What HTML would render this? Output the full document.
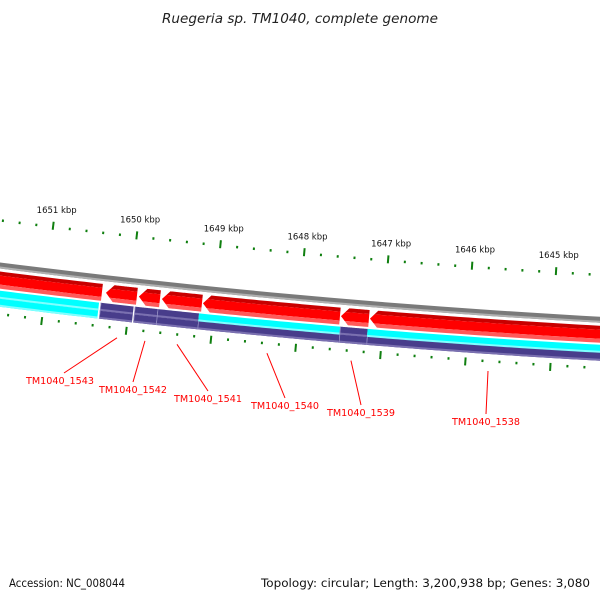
<!DOCTYPE html>
<html><head><meta charset="utf-8"><style>
html,body{margin:0;padding:0;background:#fff;}
svg{display:block;font-family:"DejaVu Sans","Liberation Sans",sans-serif;}
</style></head><body>
<svg id="map" width="600" height="600" viewBox="0 0 600 600" xmlns="http://www.w3.org/2000/svg">
<text x="300" y="23" text-anchor="middle" font-size="13" font-style="italic" fill="#222" textLength="276" lengthAdjust="spacingAndGlyphs">Ruegeria sp. TM1040, complete genome</text>
<text x="9" y="587" font-size="11.5" fill="#111" textLength="116" lengthAdjust="spacingAndGlyphs">Accession: NC_008044</text>
<text x="590" y="587" text-anchor="end" font-size="11.5" fill="#111" textLength="329" lengthAdjust="spacingAndGlyphs">Topology: circular; Length: 3,200,938 bp; Genes: 3,080</text>
<defs id="defs"></defs>
<g id="layer"></g>
</svg>
<script>
// ---- data ----
const tickKbp = [1651,1650,1649,1648,1647,1646,1645];
const fwdGeneStarts = [1650335,1649920,1649646,1649148,1647513,1647170,1643500];
const fwdGeneEnds   = [1652600,1650287,1649896,1649623,1649136,1647501,1647158];
const upperStarts = [1650355,1649945,1649660,1649170,1647500,1647175,1643500];
const upperEnds   = [1652600,1650335,1649930,1649660,1649170,1647500,1647175];
const upperKinds  = ["cyan","purple","purple","purple","cyan","purple","cyan"];
const lowerStarts = [1650355,1649945,1649660,1649170,1647500,1647175,1643500];
const lowerEnds   = [1652600,1650335,1649930,1649660,1649170,1647500,1647175];
const lowerKinds  = ["cyan","purple","purple","purple","purple","purple","purple"];
const geneNames = ["TM1040_1543","TM1040_1542","TM1040_1541","TM1040_1540","TM1040_1539","TM1040_1538"];
const geneLabelBp = [1650099,1649769,1649391,1648330,1647340,1645727];

// ---- geometry ----
const CX=1060, CY=-8117.75;
function phi(bp){ return 0.12009 - (1651000-bp)/1000*0.010015; }
function P(r,f){ return [CX - r*Math.sin(f), CY + r*Math.cos(f)]; }
const NS="http://www.w3.org/2000/svg";
const layer=document.getElementById('layer');
const defs=document.getElementById('defs');
function mk(tag,attrs,parent){const e=document.createElementNS(NS,tag);for(const k in attrs)e.setAttribute(k,attrs[k]);(parent||layer).appendChild(e);return e;}
function bandPts(r1,r2,b1,b2){
  const f1=phi(b1),f2=phi(b2),n=30,pts=[];
  for(let i=0;i<=n;i++){pts.push(P(r1,f1+(f2-f1)*i/n));}
  for(let i=n;i>=0;i--){pts.push(P(r2,f1+(f2-f1)*i/n));}
  return pts.map(p=>p[0].toFixed(2)+','+p[1].toFixed(2)).join(' ');
}
function band(r1,r2,b1,b2,fill,parent){
  return mk('polygon',{points:bandPts(r1,r2,b1,b2),fill:fill},parent);
}

// backbone
let bb=band(8447,8453,1643000,1653000,'#7a7a7a');


let bb2=band(8451,8453,1643000,1653000,'#b0b0b0');



// forward genes (arrows, tip at high bp end)
const R1=8456,R2=8473,RM=8464.5;
fwdGeneStarts.forEach((s,i)=>{
  const e=fwdGeneEnds[i];
  const arrowBp = e - 90;
  const fs=phi(s), fa=phi(arrowBp), fe=phi(e), n=30;
  const pts=[];
  for(let k=0;k<=n;k++)pts.push(P(R1,fs+(fa-fs)*k/n));
  pts.push(P(RM,fe));
  for(let k=n;k>=0;k--)pts.push(P(R2,fs+(fa-fs)*k/n));
  const ptsStr=pts.map(p=>p[0].toFixed(2)+','+p[1].toFixed(2)).join(' ');
  const cp=mk('clipPath',{id:'cp'+i},defs);
  mk('polygon',{points:ptsStr},cp);
  const g=mk('g',{'clip-path':'url(#cp'+i+')'});
  
  
  band(R1-2,R1+4,s-200,e+200,'#c80000',g);
  band(R1+4,R2-4,s-200,e+200,'#ff0000',g);
  band(R2-4,R2+2,s-200,e+200,'#ff5a5a',g);
});

// reverse tracks
const colors={cyan:['#00ffff','#80ffff'],purple:['#483d8b','#7a70b0']};
function row(starts,ends,kinds,r1,r2,name){
  starts.forEach((s,i)=>{
    const c=colors[kinds[i]];
    const g=mk('g',{});
    
    
    band(r1,r2,s,ends[i],c[0],g);
    band(r2-2,r2,s,ends[i],c[1],g);
    if(kinds[i]==='purple') mk('polygon',{points:bandPts(r1,r2,ends[i]-8,ends[i]),fill:'#9a94c8'},g);
  });
}
row(upperStarts,upperEnds,upperKinds,8475,8483,'reverse-feature-upper');
row(lowerStarts,lowerEnds,lowerKinds,8483,8491,'reverse-feature-lower');

// ticks
const G='#0f7f0f';
for(let k=1644;k<=1652;k++){
  for(let m=0;m<5;m++){
    const bp=k*1000+m*200, f=phi(bp);
    const major=(m===0);
    let a=P(major?8400:8404,f), b=P(major?8408:8406.5,f);
    let t=mk('line',{x1:a[0],y1:a[1],x2:b[0],y2:b[1],stroke:G,'stroke-width':2});
    
    
    a=P(major?8496:8497,f); b=P(major?8504:8499.5,f);
    t=mk('line',{x1:a[0],y1:a[1],x2:b[0],y2:b[1],stroke:G,'stroke-width':2});
    
    
  }
}
tickKbp.forEach(k=>{
  const p=P(8391,phi(k*1000));
  const t=mk('text',{x:(p[0]+2).toFixed(1),y:p[1].toFixed(1),'text-anchor':'middle','font-size':'8.5',fill:'#111'});
  t.textContent=k+' kbp';
  
  
});

// gene labels (label placement is layout)
const labelX=[60,133,208,285,361,486];
const labelY=[384,393,402,409,416,425];
geneNames.forEach((nm,i)=>{
  const a=P(8508,phi(geneLabelBp[i]));
  const ex=labelX[i]+(i===0?4:0), ey=labelY[i]-11;
  const l=mk('line',{x1:a[0],y1:a[1],x2:ex,y2:ey,stroke:'#ff0000','stroke-width':1});
  
  
  const t=mk('text',{x:labelX[i],y:labelY[i],'text-anchor':'middle','font-size':'10',fill:'#ff0000',textLength:68,lengthAdjust:'spacingAndGlyphs'});
  t.textContent=nm;
  
  
});
</script>
</body></html>
